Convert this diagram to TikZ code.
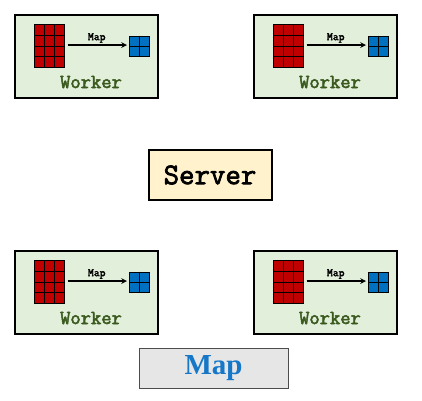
\documentclass[tikz,border=0pt]{standalone}
\usepackage{fontspec}
\newfontfamily\monofont[AutoFakeBold=2.5]{Latin Modern Mono}
\newfontfamily\seriffont{Liberation Serif}
\definecolor{workerfill}{HTML}{E2EFDA}
\definecolor{workertext}{HTML}{3A5A1E}
\definecolor{cellred}{HTML}{C00000}
\definecolor{cellblue}{HTML}{0070C0}
\definecolor{serverfill}{HTML}{FFF2CC}
\definecolor{mapfill}{HTML}{E6E6E6}
\definecolor{maptext}{HTML}{1677C8}
\begin{document}
\begin{tikzpicture}[x=1pt,y=-1pt]
        \tikzstyle{worker}=[draw=black, fill=workerfill, line width=2pt, minimum width=143pt, minimum height=83pt, inner sep=0pt]
        \tikzstyle{redgrid}=[draw=black, fill=cellred, line width=1pt, minimum width=30pt, minimum height=43pt, inner sep=0pt]
        \tikzstyle{bluegrid}=[draw=black, fill=cellblue, line width=1pt, minimum size=20pt, inner sep=0pt]
        \tikzstyle{label}=[font=\monofont\bfseries\fontsize{20}{20}\selectfont, text=workertext]
        \tikzstyle{maplabel}=[midway, above, inner sep=1.5pt, font=\monofont\bfseries\fontsize{11.4}{11}\selectfont]
        \useasboundingbox (0,0) rectangle (422,400);
        \foreach \ox/\oy/\n in {0/0/a,239/0/b,0/236/c,239/236/d} {
            \node[worker] (w\n) at (\ox+86,\oy+56) {};
            \node[redgrid] (r\n) at (\ox+49,\oy+46) {};
            \foreach \i in {1,2} \draw[line width=1pt] (\ox+34+\i*10,\oy+24.5) -- ++(0,43);
            \foreach \j in {1,2,3} \draw[line width=1pt] (\ox+34,\oy+24.5+\j*10.75) -- ++(30,0);
            \node[bluegrid] (b\n) at (\ox+139.5,\oy+46) {};
            \draw[line width=1pt] (b\n.north) -- (b\n.south);
            \draw[line width=1pt] (b\n.west) -- (b\n.east);
            \draw[->, >=stealth, line width=1.5pt, shorten <=3pt, shorten >=2pt] (r\n.east |- 0,\oy+45) -- (b\n.west |- 0,\oy+45) node[maplabel] {Map};
            \node[label] (t\n) at (\ox+91,\oy+82) {Worker};
        }
        \node[draw=black, fill=serverfill, line width=2pt, minimum width=123pt, minimum height=50pt, inner sep=0pt,
              font=\monofont\bfseries\fontsize{30}{30}\selectfont] (server) at (210,175) {Server};
        \node[draw=black!70, fill=mapfill, line width=1pt, minimum width=149pt, minimum height=40pt, inner sep=0pt,
              font=\seriffont\bfseries\fontsize{29}{30}\selectfont, text=maptext] (mapbtn) at (213.5,368.5) {Map};
    \end{tikzpicture}
\end{document}
